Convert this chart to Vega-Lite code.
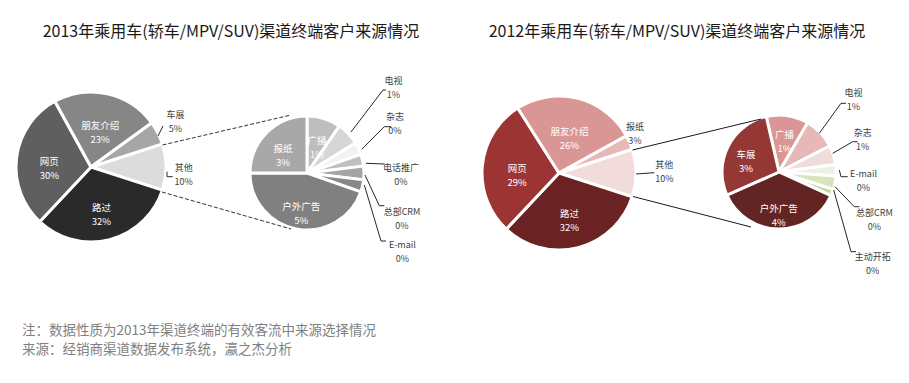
{
  "$schema": "https://vega.github.io/schema/vega-lite/v6.json",
  "background": "white",
  "padding": {"left": 10, "top": 24, "right": 0, "bottom": 0},
  "spacing": 6,
  "config": {
    "view": {"stroke": null},
    "font": "Noto Sans CJK SC",
    "title": {"font": "Noto Sans CJK SC", "fontWeight": "normal"}
  },
  "title": {
    "text": ["注：数据性质为2013年渠道终端的有效客流中来源选择情况", "来源：经销商渠道数据发布系统，瀛之杰分析"],
    "orient": "bottom",
    "anchor": "start",
    "dx": 12,
    "offset": 9,
    "fontSize": 13.5,
    "lineHeight": 19,
    "color": "#7f7f7f",
    "fontWeight": "normal"
  },
  "datasets": {
    "slices": [
      {"year": 2013, "pie": "big", "name": "其他", "value": 10, "ord": 1, "inlabel": ""},
      {"year": 2013, "pie": "big", "name": "路过", "value": 32, "ord": 2, "inlabel": "路过\n32%"},
      {"year": 2013, "pie": "big", "name": "网页", "value": 30, "ord": 3, "inlabel": "网页\n30%"},
      {"year": 2013, "pie": "big", "name": "朋友介绍", "value": 23, "ord": 4, "inlabel": "朋友介绍\n23%"},
      {"year": 2013, "pie": "big", "name": "车展", "value": 5, "ord": 5, "inlabel": ""},
      {"year": 2013, "pie": "small", "name": "广播", "value": 1.0, "ord": 1, "inlabel": "广播\n1%"},
      {"year": 2013, "pie": "small", "name": "电视", "value": 0.68, "ord": 2, "inlabel": ""},
      {"year": 2013, "pie": "small", "name": "杂志", "value": 0.37, "ord": 3, "inlabel": ""},
      {"year": 2013, "pie": "small", "name": "电话推广", "value": 0.35, "ord": 4, "inlabel": ""},
      {"year": 2013, "pie": "small", "name": "总部CRM", "value": 0.4, "ord": 5, "inlabel": ""},
      {"year": 2013, "pie": "small", "name": "E-mail", "value": 0.36, "ord": 6, "inlabel": ""},
      {"year": 2013, "pie": "small", "name": "户外广告", "value": 4.64, "ord": 7, "inlabel": "户外广告\n5%"},
      {"year": 2013, "pie": "small", "name": "报纸", "value": 2.6, "ord": 8, "inlabel": "报纸\n3%"},
      {"year": 2012, "pie": "big", "name": "其他", "value": 10, "ord": 1, "inlabel": ""},
      {"year": 2012, "pie": "big", "name": "路过", "value": 32, "ord": 2, "inlabel": "路过\n32%"},
      {"year": 2012, "pie": "big", "name": "网页", "value": 29, "ord": 3, "inlabel": "网页\n29%"},
      {"year": 2012, "pie": "big", "name": "朋友介绍", "value": 26, "ord": 4, "inlabel": "朋友介绍\n26%"},
      {"year": 2012, "pie": "big", "name": "报纸", "value": 3, "ord": 5, "inlabel": ""},
      {"year": 2012, "pie": "small", "name": "广播", "value": 1.19, "ord": 1, "inlabel": "广播\n1%"},
      {"year": 2012, "pie": "small", "name": "电视", "value": 0.9, "ord": 2, "inlabel": ""},
      {"year": 2012, "pie": "small", "name": "杂志", "value": 0.54, "ord": 3, "inlabel": ""},
      {"year": 2012, "pie": "small", "name": "E-mail", "value": 0.32, "ord": 4, "inlabel": ""},
      {"year": 2012, "pie": "small", "name": "总部CRM", "value": 0.38, "ord": 5, "inlabel": ""},
      {"year": 2012, "pie": "small", "name": "主动开拓", "value": 0.18, "ord": 6, "inlabel": ""},
      {"year": 2012, "pie": "small", "name": "户外广告", "value": 3.63, "ord": 7, "inlabel": "户外广告\n4%"},
      {"year": 2012, "pie": "small", "name": "车展", "value": 2.78, "ord": 8, "inlabel": "车展\n3%"}
    ],
    "connectors": [
      {"year": 2013, "x": 151.5, "y": 95, "x2": 280, "y2": 65},
      {"year": 2013, "x": 151, "y": 142, "x2": 280, "y2": 179},
      {"year": 2012, "x": 175.5, "y": 100, "x2": 304, "y2": 69},
      {"year": 2012, "x": 176, "y": 146.5, "x2": 294, "y2": 177}
    ],
    "leaders": [
      {"year": 2013, "id": "车展", "seq": 1, "x": 147, "y": 86},
      {"year": 2013, "id": "车展", "seq": 2, "x": 152, "y": 76},
      {"year": 2013, "id": "其他", "seq": 1, "x": 156, "y": 121.7},
      {"year": 2013, "id": "其他", "seq": 2, "x": 156, "y": 126.7},
      {"year": 2013, "id": "其他", "seq": 3, "x": 161.7, "y": 126.7},
      {"year": 2013, "id": "电视", "seq": 1, "x": 340, "y": 82},
      {"year": 2013, "id": "电视", "seq": 2, "x": 372, "y": 40},
      {"year": 2013, "id": "电视", "seq": 3, "x": 375, "y": 40},
      {"year": 2013, "id": "杂志", "seq": 1, "x": 350.7, "y": 99.3},
      {"year": 2013, "id": "杂志", "seq": 2, "x": 373.3, "y": 76.7},
      {"year": 2013, "id": "杂志", "seq": 3, "x": 380, "y": 76.7},
      {"year": 2013, "id": "电话推广", "seq": 1, "x": 355, "y": 113.3},
      {"year": 2013, "id": "电话推广", "seq": 2, "x": 373.3, "y": 114},
      {"year": 2013, "id": "总部CRM", "seq": 1, "x": 354, "y": 125},
      {"year": 2013, "id": "总部CRM", "seq": 2, "x": 368.3, "y": 155.7},
      {"year": 2013, "id": "总部CRM", "seq": 3, "x": 373.3, "y": 155.7},
      {"year": 2013, "id": "E-mail", "seq": 1, "x": 353.3, "y": 135},
      {"year": 2013, "id": "E-mail", "seq": 2, "x": 370, "y": 191},
      {"year": 2013, "id": "E-mail", "seq": 3, "x": 375, "y": 191},
      {"year": 2012, "id": "其他", "seq": 1, "x": 179, "y": 124},
      {"year": 2012, "id": "其他", "seq": 2, "x": 197.3, "y": 122.7},
      {"year": 2012, "id": "电视", "seq": 1, "x": 362.3, "y": 83.3},
      {"year": 2012, "id": "电视", "seq": 2, "x": 384, "y": 53.3},
      {"year": 2012, "id": "电视", "seq": 3, "x": 389, "y": 53.3},
      {"year": 2012, "id": "杂志", "seq": 1, "x": 375.7, "y": 103.3},
      {"year": 2012, "id": "杂志", "seq": 2, "x": 395.7, "y": 91.7},
      {"year": 2012, "id": "杂志", "seq": 3, "x": 400.7, "y": 91.7},
      {"year": 2012, "id": "E-mail", "seq": 1, "x": 382.3, "y": 120},
      {"year": 2012, "id": "E-mail", "seq": 2, "x": 384, "y": 126.7},
      {"year": 2012, "id": "E-mail", "seq": 3, "x": 390.7, "y": 126.7},
      {"year": 2012, "id": "总部CRM", "seq": 1, "x": 378, "y": 136.7},
      {"year": 2012, "id": "总部CRM", "seq": 2, "x": 397.3, "y": 156.7},
      {"year": 2012, "id": "总部CRM", "seq": 3, "x": 402.3, "y": 156.7},
      {"year": 2012, "id": "主动开拓", "seq": 1, "x": 376.7, "y": 140},
      {"year": 2012, "id": "主动开拓", "seq": 2, "x": 394, "y": 201.7},
      {"year": 2012, "id": "主动开拓", "seq": 3, "x": 399, "y": 201.7}
    ],
    "labels": [
      {"year": 2013, "text": "车展\n5%", "x": 164.5, "y": 65},
      {"year": 2013, "text": "其他\n10%", "x": 172.7, "y": 117.5},
      {"year": 2013, "text": "电视\n1%", "x": 382.5, "y": 31},
      {"year": 2013, "text": "杂志\n0%", "x": 384, "y": 67.3},
      {"year": 2013, "text": "电话推广\n0%", "x": 390, "y": 117.5},
      {"year": 2013, "text": "总部CRM\n0%", "x": 391, "y": 161.7},
      {"year": 2013, "text": "E-mail\n0%", "x": 391.3, "y": 195},
      {"year": 2012, "text": "报纸\n3%", "x": 178, "y": 76.7},
      {"year": 2012, "text": "其他\n10%", "x": 207.3, "y": 114.5},
      {"year": 2012, "text": "电视\n1%", "x": 396.5, "y": 42.7},
      {"year": 2012, "text": "杂志\n1%", "x": 405.7, "y": 83.3},
      {"year": 2012, "text": "E-mail\n0%", "x": 406.5, "y": 123.8},
      {"year": 2012, "text": "总部CRM\n0%", "x": 417.3, "y": 162.7},
      {"year": 2012, "text": "主动开拓\n0%", "x": 415.7, "y": 206.7}
    ]
  },
  "resolve": {"scale": {"color": "independent", "theta": "independent"}},
  "hconcat": [
    {
      "width": 440,
      "height": 265,
      "title": {"text": "2013年乘用车(轿车/MPV/SUV)渠道终端客户来源情况", "fontSize": 16, "color": "#1a1a1a", "offset": 10},
      "resolve": {"scale": {"theta": "independent"}},
      "layer": [
        {
          "data": {"name": "slices"},
          "transform": [{"filter": "datum.year == 2013 && datum.pie == 'big'"}],
          "encoding": {
            "x": {"datum": 80, "type": "quantitative", "scale": {"domain": [0, 440], "nice": false, "zero": false}, "axis": null},
            "y": {"datum": 117, "type": "quantitative", "scale": {"domain": [0, 265], "nice": false, "zero": false, "reverse": true}, "axis": null},
            "theta": {"field": "value", "type": "quantitative", "stack": true, "scale": {"range": [1.2566, 7.5398]}},
            "order": {"field": "ord", "type": "quantitative"},
            "detail": {"field": "name", "type": "nominal"}
          },
          "layer": [
            {
              "mark": {"type": "arc", "outerRadius": 75, "stroke": "white", "strokeWidth": 3},
              "encoding": {
                "color": {"field": "name", "type": "nominal", "legend": null,
                  "scale": {"domain": ["其他", "路过", "网页", "朋友介绍", "车展", "广播", "电视", "杂志", "电话推广", "总部CRM", "E-mail", "户外广告", "报纸"],
                            "range": ["#dcdcdc", "#2a2a2a", "#5f5f5f", "#868686", "#a6a6a6", "#bebebe", "#d6d6d6", "#f2f2f2", "#c0c0c0", "#a4a4a4", "#888888", "#808080", "#a8a8a8"]}}
              }
            },
            {
              "mark": {"type": "text", "radius": 42, "fill": "white", "fontSize": 9.5, "lineBreak": "\n", "lineHeight": 14, "align": "center", "baseline": "middle"},
              "encoding": {"text": {"field": "inlabel", "type": "nominal"}}
            }
          ]
        },
        {
          "data": {"name": "slices"},
          "transform": [{"filter": "datum.year == 2013 && datum.pie == 'small'"}],
          "encoding": {
            "x": {"datum": 296, "type": "quantitative"},
            "y": {"datum": 123, "type": "quantitative"},
            "theta": {"field": "value", "type": "quantitative", "stack": true, "scale": {"range": [0, 6.2832]}},
            "order": {"field": "ord", "type": "quantitative"},
            "detail": {"field": "name", "type": "nominal"}
          },
          "layer": [
            {
              "mark": {"type": "arc", "outerRadius": 57, "stroke": "white", "strokeWidth": 3},
              "encoding": {"color": {"field": "name", "type": "nominal", "legend": null}}
            },
            {
              "mark": {"type": "text", "radius": 34, "fill": "white", "fontSize": 9.5, "lineBreak": "\n", "lineHeight": 14, "align": "center", "baseline": "middle"},
              "encoding": {"text": {"field": "inlabel", "type": "nominal"}}
            }
          ]
        },
        {
          "data": {"name": "connectors"},
          "transform": [{"filter": "datum.year == 2013"}],
          "mark": {"type": "rule", "color": "#333333", "strokeWidth": 1, "strokeDash": [4, 2]},
          "encoding": {
            "x": {"field": "x", "type": "quantitative"},
            "y": {"field": "y", "type": "quantitative"},
            "x2": {"field": "x2"},
            "y2": {"field": "y2"}
          }
        },
        {
          "data": {"name": "leaders"},
          "transform": [{"filter": "datum.year == 2013"}],
          "mark": {"type": "line", "color": "#262626", "strokeWidth": 1},
          "encoding": {
            "x": {"field": "x", "type": "quantitative"},
            "y": {"field": "y", "type": "quantitative"},
            "detail": {"field": "id", "type": "nominal"},
            "order": {"field": "seq", "type": "quantitative"}
          }
        },
        {
          "data": {"name": "labels"},
          "transform": [{"filter": "datum.year == 2013"}],
          "mark": {"type": "text", "fill": "#404040", "fontSize": 9, "lineBreak": "\n", "lineHeight": 14, "align": "center", "baseline": "middle"},
          "encoding": {
            "x": {"field": "x", "type": "quantitative"},
            "y": {"field": "y", "type": "quantitative"},
            "text": {"field": "text", "type": "nominal"}
          }
        }
      ]
    },
    {
      "width": 440,
      "height": 265,
      "title": {"text": "2012年乘用车(轿车/MPV/SUV)渠道终端客户来源情况", "fontSize": 16, "color": "#1a1a1a", "offset": 10},
      "resolve": {"scale": {"theta": "independent"}},
      "layer": [
        {
          "data": {"name": "slices"},
          "transform": [{"filter": "datum.year == 2012 && datum.pie == 'big'"}],
          "encoding": {
            "x": {"datum": 102, "type": "quantitative", "scale": {"domain": [0, 440], "nice": false, "zero": false}, "axis": null},
            "y": {"datum": 123, "type": "quantitative", "scale": {"domain": [0, 265], "nice": false, "zero": false, "reverse": true}, "axis": null},
            "theta": {"field": "value", "type": "quantitative", "stack": true, "scale": {"range": [1.2566, 7.5398]}},
            "order": {"field": "ord", "type": "quantitative"},
            "detail": {"field": "name", "type": "nominal"}
          },
          "layer": [
            {
              "mark": {"type": "arc", "outerRadius": 77, "stroke": "white", "strokeWidth": 3},
              "encoding": {
                "color": {"field": "name", "type": "nominal", "legend": null,
                  "scale": {"domain": ["其他", "路过", "网页", "朋友介绍", "报纸", "广播", "电视", "杂志", "E-mail", "总部CRM", "主动开拓", "户外广告", "车展"],
                            "range": ["#f2dcdb", "#6b2222", "#9c3434", "#d99694", "#e6b9b8", "#d99694", "#e6b9b8", "#f2dcdb", "#ebf1de", "#d7e4bd", "#c4d79b", "#632523", "#953735"]}}
              }
            },
            {
              "mark": {"type": "text", "radius": 42, "fill": "white", "fontSize": 9.5, "lineBreak": "\n", "lineHeight": 14, "align": "center", "baseline": "middle"},
              "encoding": {"text": {"field": "inlabel", "type": "nominal"}}
            }
          ]
        },
        {
          "data": {"name": "slices"},
          "transform": [{"filter": "datum.year == 2012 && datum.pie == 'small'"}],
          "encoding": {
            "x": {"datum": 322, "type": "quantitative"},
            "y": {"datum": 122, "type": "quantitative"},
            "theta": {"field": "value", "type": "quantitative", "stack": true, "scale": {"range": [-0.2269, 6.0563]}},
            "order": {"field": "ord", "type": "quantitative"},
            "detail": {"field": "name", "type": "nominal"}
          },
          "layer": [
            {
              "mark": {"type": "arc", "outerRadius": 57, "stroke": "white", "strokeWidth": 3},
              "encoding": {"color": {"field": "name", "type": "nominal", "legend": null}}
            },
            {
              "mark": {"type": "text", "radius": 37, "fill": "white", "fontSize": 9.5, "lineBreak": "\n", "lineHeight": 14, "align": "center", "baseline": "middle"},
              "encoding": {"text": {"field": "inlabel", "type": "nominal"}}
            }
          ]
        },
        {
          "data": {"name": "connectors"},
          "transform": [{"filter": "datum.year == 2012"}],
          "mark": {"type": "rule", "color": "#1a1a1a", "strokeWidth": 1},
          "encoding": {
            "x": {"field": "x", "type": "quantitative"},
            "y": {"field": "y", "type": "quantitative"},
            "x2": {"field": "x2"},
            "y2": {"field": "y2"}
          }
        },
        {
          "data": {"name": "leaders"},
          "transform": [{"filter": "datum.year == 2012"}],
          "mark": {"type": "line", "color": "#262626", "strokeWidth": 1},
          "encoding": {
            "x": {"field": "x", "type": "quantitative"},
            "y": {"field": "y", "type": "quantitative"},
            "detail": {"field": "id", "type": "nominal"},
            "order": {"field": "seq", "type": "quantitative"}
          }
        },
        {
          "data": {"name": "labels"},
          "transform": [{"filter": "datum.year == 2012"}],
          "mark": {"type": "text", "fill": "#404040", "fontSize": 9, "lineBreak": "\n", "lineHeight": 14, "align": "center", "baseline": "middle"},
          "encoding": {
            "x": {"field": "x", "type": "quantitative"},
            "y": {"field": "y", "type": "quantitative"},
            "text": {"field": "text", "type": "nominal"}
          }
        }
      ]
    }
  ]
}
